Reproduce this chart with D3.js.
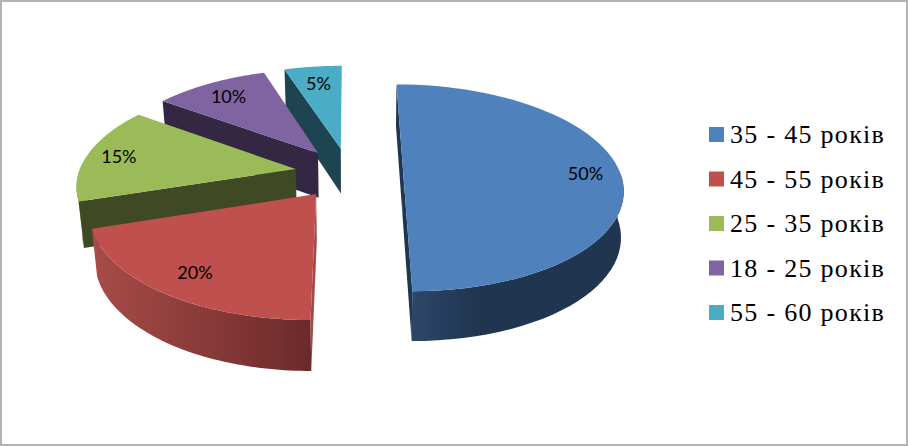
<!DOCTYPE html>
<html><head><meta charset="utf-8">
<style>html,body{margin:0;padding:0;background:#fff}svg{display:block}</style>
<script src="https://cdn.jsdelivr.net/npm/d3@7"></script></head>
<body><svg id="c" width="908" height="446"></svg>
<script>
const categories = ["35 - 45 років","45 - 55 років","25 - 35 років","18 - 25 років","55 - 60 років"];
const values = [50,20,15,10,5];
const labels = ["50%","20%","15%","10%","5%"];
const topColors = ["#4f81bd","#c0504d","#9bbb59","#8064a2","#4bacc6"];
const cutColors = ["#1f3550","#a34a46","#3f4a24","#342743","#1d4450"];
const wallFrom = ["#2f4b70","#a84c48","#8aa650","#6b5488","#3d8ba0"];
const wallTo = ["#1f3550","#6b2a2a","#6f8540","#5a4672","#33768a"];

// projection of the pie plane
const W = 908, H = 446;
const VX = 349, AX = 217, HY = -536, BY = 709, D = 7, EXPLODE = 0.25, DEPTH = 45.5;
const labelR = [0.84,0.81,0.85,0.81,0.78];
const scale = Y => D / (D - Y);
const svg = d3.select("#c");
svg.append("rect").attr("x",1).attr("y",1).attr("width",W-2).attr("height",H-2)
  .attr("fill","#fff").attr("stroke","#b3b3b3").attr("stroke-width",2);
const defs = svg.append("defs");

const arcs = d3.pie().sort(null).value(d => d)(values);
const line = d3.line();

function proj(a, r, mid, lower) {
  const X = EXPLODE * Math.sin(mid) + r * Math.sin(a);
  const Y = -EXPLODE * Math.cos(mid) - r * Math.cos(a);
  const s = scale(Y);
  const sx = VX + AX * X * s, sy = HY + BY * s;
  if (!lower) return [sx, sy];
  return [VX + (sx - VX) * (sx < VX ? 0.98 : 0.99), sy + DEPTH * Math.pow(s, 0.6)];
}
const draw = [4,3,2,1,0];
const g = svg.append("g");
draw.forEach(i => {
  const d = arcs[i], mid = (d.startAngle + d.endAngle) / 2;
  const steps = d3.range(0, 61).map(k => d.startAngle + (d.endAngle - d.startAngle) * k / 60);
  const rim = steps.map(a => proj(a, 1, mid, false));
  const rimLow = steps.map(a => proj(a, 1, mid, true));
  const apex = proj(0, 0, mid, false), apexLow = proj(0, 0, mid, true);
  const cut = k => g.append("path").attr("d", line([apex, rim[k], rimLow[k], apexLow]) + "Z").attr("fill", cutColors[i]);
  if (i === 0) cut(60);
  // outer wall
  const xs = d3.extent(rim, p => p[0]);
  const grad = defs.append("linearGradient").attr("id", "w" + i).attr("gradientUnits", "userSpaceOnUse")
    .attr("x1", xs[0]).attr("x2", i === 0 ? xs[0] + (xs[1] - xs[0]) * 0.36 : xs[1]).attr("y1", 0).attr("y2", 0);
  grad.append("stop").attr("offset", 0).attr("stop-color", wallFrom[i]);
  grad.append("stop").attr("offset", 1).attr("stop-color", wallTo[i]);
  const front = steps.map((a, k) => k).filter(k => Math.cos(steps[k]) <= 0.05);
  if (front.length > 1) {
    const t = front.map(k => rim[k]), b = front.map(k => rimLow[k]).reverse();
    g.append("path").attr("d", line(t.concat(b)) + "Z").attr("fill", `url(#w${i})`);
  }
  cut(0);
  // top
  g.append("path").attr("d", line([apex].concat(rim)) + "Z").attr("fill", topColors[i]);
});

// data labels
labels.forEach((t, i) => {
  const d = arcs[i], mid = (d.startAngle + d.endAngle) / 2;
  const p = proj(mid, labelR[i], mid, false);
  svg.append("text").attr("x", p[0]).attr("y", p[1]).attr("text-anchor","middle").attr("dominant-baseline","central")
    .attr("font-family","Lato,sans-serif").attr("font-size",18).attr("fill","#000").text(t);
});

// legend
const ly = d3.scalePoint().domain(categories).range([134.5, 312.5]);
const lg = svg.append("g");
categories.forEach((c, i) => {
  lg.append("rect").attr("x",709).attr("y",ly(c)-7.5).attr("width",15).attr("height",15).attr("fill",topColors[i]);
  lg.append("text").attr("x",730).attr("y",ly(c)+8.5).attr("font-family","'Liberation Serif',serif")
    .attr("font-size",26).attr("letter-spacing",1.3).attr("fill","#000").text(c);
});
</script></body></html>
